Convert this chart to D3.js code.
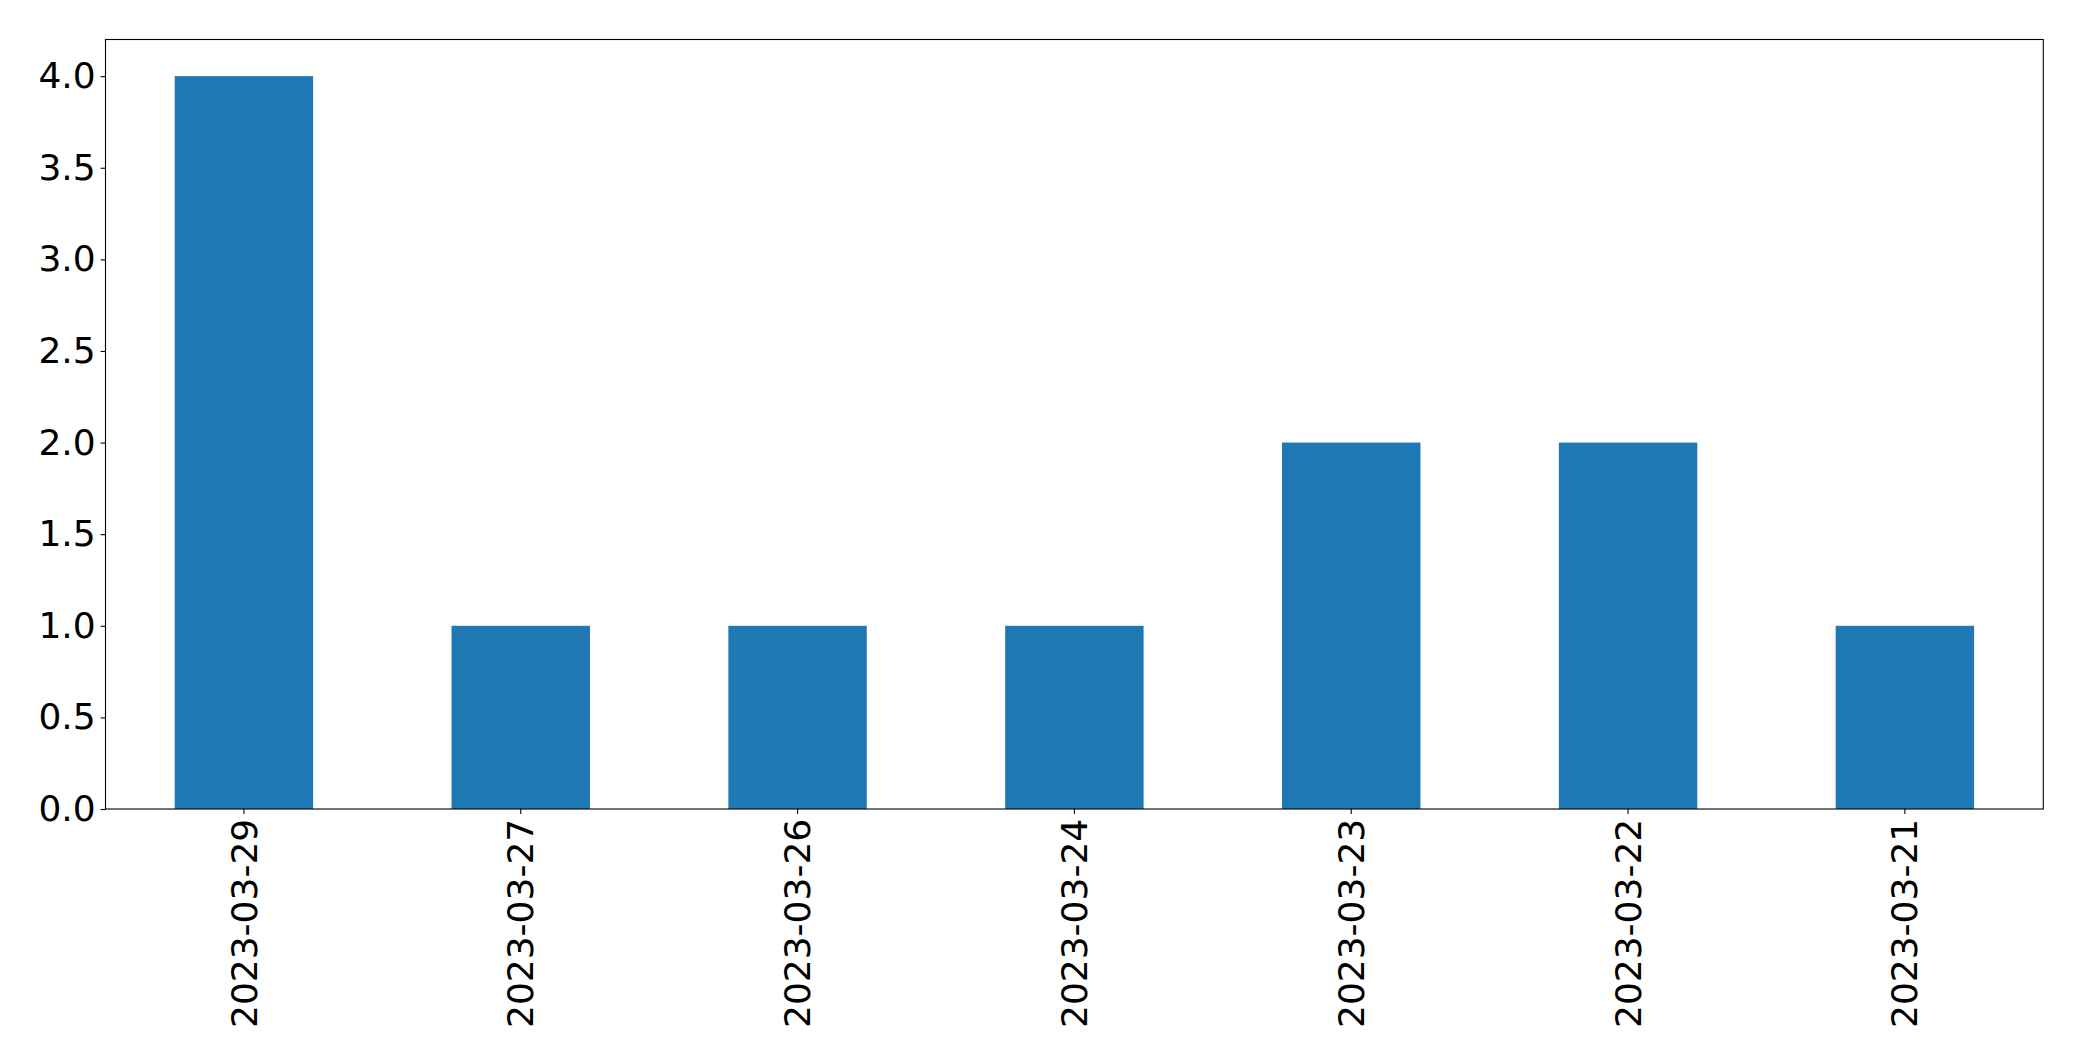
<!DOCTYPE html>
<html><head><meta charset="utf-8">
<script src="https://cdn.jsdelivr.net/npm/d3@7"></script>
<style>body{margin:0;background:#fff;} svg{display:block;}</style>
</head><body>
<svg id="chart" width="2082" height="1061"></svg>
<script>
const categories = ["2023-03-29","2023-03-27","2023-03-26","2023-03-24","2023-03-23","2023-03-22","2023-03-21"];
const values = [4, 1, 1, 1, 2, 2, 1];
const yTicks = [0, 0.5, 1.0, 1.5, 2.0, 2.5, 3.0, 3.5, 4.0];

const W = 2082, H = 1061;
const m = {left: 105.5, top: 39.5, right: 2043.3, bottom: 809};
const svg = d3.select("#chart");
const font = "'DejaVu Sans', sans-serif";
const fs = 36;

const x = d3.scaleBand().domain(categories).range([m.left, m.right]).paddingInner(0.5).paddingOuter(0.25);
const y = d3.scaleLinear().domain([0, 4.2]).range([m.bottom, m.top]);

svg.append("g").selectAll("rect").data(values).join("rect")
  .attr("x", (d,i) => x(categories[i]))
  .attr("width", x.bandwidth())
  .attr("y", d => y(d))
  .attr("height", d => y(0) - y(d))
  .attr("fill", "#1f77b4");

const yAxis = svg.append("g").attr("transform", `translate(${m.left},0)`)
  .call(d3.axisLeft(y).tickValues(yTicks).tickFormat(d3.format(".1f")).tickSize(4.9).tickPadding(4.9));
const xAxis = svg.append("g").attr("transform", `translate(0,${m.bottom})`)
  .call(d3.axisBottom(x).tickSize(4.9).tickPadding(4.9));
[yAxis, xAxis].forEach(g => {
  g.select(".domain").remove();
  g.selectAll("line").attr("stroke", "#000").attr("stroke-width", 1.1);
  g.selectAll("text").attr("fill", "#000").style("font-family", font).style("font-size", fs + "px");
});
xAxis.selectAll("text")
  .attr("transform", "rotate(-90)")
  .attr("text-anchor", "end")
  .attr("dy", "0.35em")
  .attr("x", -9.8)
  .attr("y", 0);

svg.append("rect")
  .attr("x", m.left).attr("y", m.top)
  .attr("width", m.right - m.left).attr("height", m.bottom - m.top)
  .attr("fill", "none").attr("stroke", "#000").attr("stroke-width", 1.1);
</script>
</body></html>
